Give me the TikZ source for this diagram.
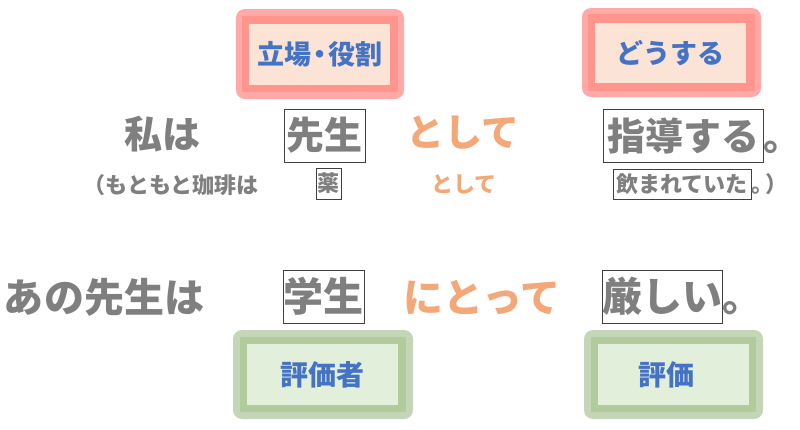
\documentclass[tikz,border=0pt]{standalone}
\usepackage{fontspec}
\setmainfont{Noto Sans CJK JP}[BoldFont={Noto Sans CJK JP Black}]
\definecolor{txtgray}{HTML}{7F7F7F}
\definecolor{txtorange}{HTML}{F4A877}
\definecolor{txtblue}{HTML}{4472C4}
\definecolor{pinkout}{HTML}{FFA9A9}
\definecolor{pinkband}{HTML}{FF958D}
\definecolor{pinkin}{HTML}{FBE4D6}
\definecolor{greenout}{HTML}{C5D6B8}
\definecolor{greenband}{HTML}{B1CB9D}
\definecolor{greenin}{HTML}{E2EFDA}
\definecolor{boxline}{HTML}{404040}
\begin{document}
\begin{tikzpicture}[x=1pt,y=-1pt,
  big/.style={font=\bfseries\fontsize{38}{38}\selectfont, inner sep=0},
  bigb/.style={font=\bfseries\fontsize{40}{40}\selectfont, inner sep=0},
  small/.style={font=\bfseries\fontsize{22}{22}\selectfont, inner sep=0},
  grayt/.style={text=txtgray},
  oranget/.style={text=txtorange},
  wordbox/.style={draw=boxline, line width=0.8pt, inner sep=0},
  tagtext/.style={text=txtblue, inner sep=0, font=\bfseries\fontsize{27}{27}\selectfont},
  tagtextg/.style={text=txtblue, inner sep=0, font=\bfseries\fontsize{28}{28}\selectfont}
]
\useasboundingbox (0,0) rectangle (800,429);
\fill[white] (0,0) rectangle (800,429);

% pink tags
\fill[pinkout, rounded corners=9] (236,9) rectangle (404,99);
\fill[pinkband] (242,16) rectangle (398,92);
\node[tagtext, fill=pinkin, minimum width=141, minimum height=61] (t1) at (319.5,54.5) {立場\kern-5pt・\kern-5pt役割};

\fill[pinkout, rounded corners=9] (582,8) rectangle (761,97);
\fill[pinkband] (588,14) rectangle (755,91);
\node[tagtext, fill=pinkin, minimum width=151, minimum height=60] (t2) at (670.5,53) {どうする};

% green tags
\fill[greenout, rounded corners=9] (233,330) rectangle (413,419);
\fill[greenband] (240,337) rectangle (406,412);
\node[tagtextg, fill=greenin, minimum width=151, minimum height=61] (t3) at (322.5,374.5) {評価者};

\fill[greenout, rounded corners=9] (584,330) rectangle (763,419);
\fill[greenband] (591,337) rectangle (756,412);
\node[tagtextg, fill=greenin, minimum width=151, minimum height=61] (t4) at (673.5,374.5) {\hspace*{-14pt}評価};

% row 1
\node[big, grayt] (a1) at (162,134) {私は};
\node[big, grayt, wordbox, minimum width=81, minimum height=53] (b1) at (324.5,135.5) {先生};
\node[big, oranget] (c1) at (463,133) {として};
\node[big, grayt, wordbox, minimum width=160, minimum height=53] (d1) at (683,135.5) {指導する};
\node[big, grayt, anchor=base west] (d1p) at (d1.base -| d1.east) {。};

% row 1 small
\node[small, grayt, anchor=east] (e1) at (259,185) {（もともと珈琲は};
\node[small, grayt, wordbox, minimum width=25, minimum height=31] (f1) at (328.5,183.5) {薬};
\node[small, oranget] (g1) at (464,184) {として};
\node[small, grayt, wordbox, minimum width=138, minimum height=30] (h1) at (682,184) {飲まれていた};
\node[small, grayt, anchor=base west] (h1p) at (h1.base -| h1.east) {。\kern-8pt）};

% row 2
\node[bigb, grayt] (a2) at (104,297) {あの先生は};
\node[bigb, grayt, wordbox, minimum width=81, minimum height=53] (b2) at (323.5,296.5) {学生};
\node[bigb, oranget] (c2) at (482,297) {にとって};
\node[bigb, grayt, wordbox, minimum width=120, minimum height=53] (d2) at (662,296.5) {厳しい};
\node[bigb, grayt, anchor=base west] (d2p) at (d2.base -| d2.east) {。};
\end{tikzpicture}
\end{document}
